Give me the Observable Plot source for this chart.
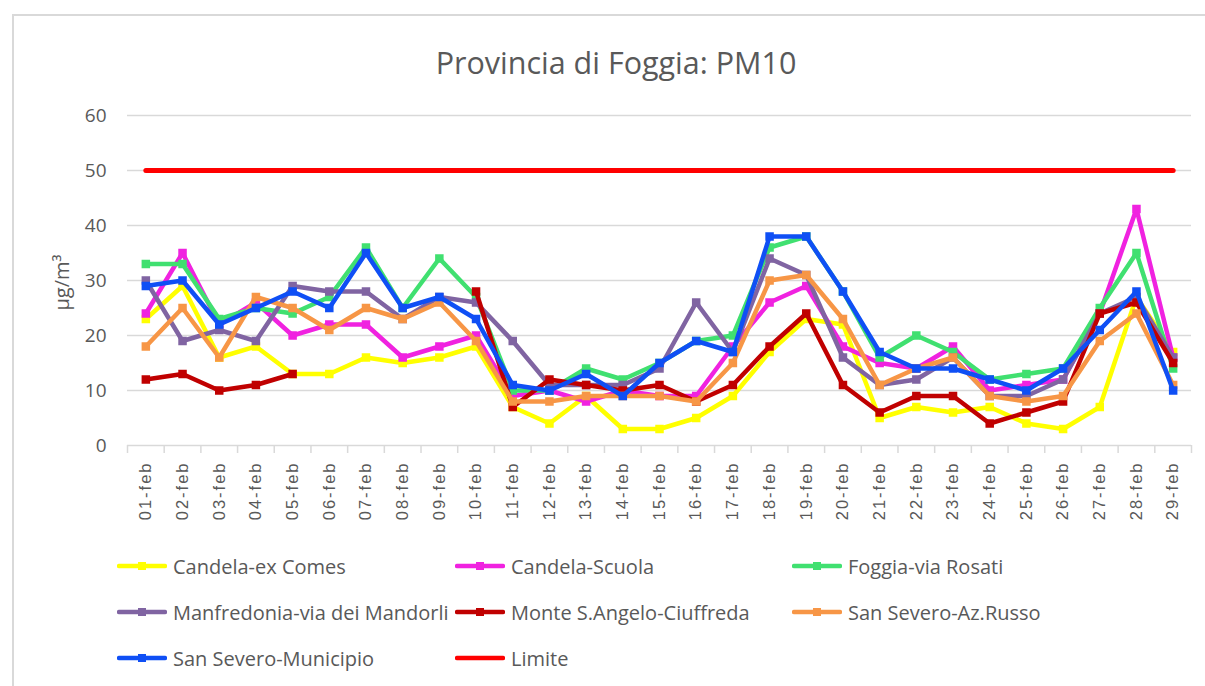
<!DOCTYPE html>
<html>
<head>
<meta charset="utf-8">
<script src="https://cdn.jsdelivr.net/npm/d3@7"></script>
<script src="https://cdn.jsdelivr.net/npm/@observablehq/plot@0.6"></script>
<style>
  html, body { margin: 0; padding: 0; background: #fff; }
  body { width: 1205px; height: 686px; position: relative; overflow: hidden; }
  #frame { position: absolute; left: 12px; top: 14px; width: 1300px; height: 800px; border-left: 2px solid #d9d9d9; border-top: 2px solid #d9d9d9; box-sizing: border-box; }
  #title { position: absolute; left: 0; top: 43px; width: 1232px; text-align: center; font-family: "Open Sans", sans-serif; font-size: 30.5px; color: #595959; line-height: 38px; }
  #chart { position: absolute; left: 0; top: 90px; }
  #legend { position: absolute; left: 0; top: 0; width: 1205px; height: 686px; pointer-events: none; }
  .item { position: absolute; display: flex; align-items: center; height: 30px; font-family: "Open Sans", sans-serif; font-size: 20px; color: #595959; white-space: nowrap; }
  .item svg { margin-right: 6px; }
  .pm10 [aria-label="x-axis tick label"] text { letter-spacing: 2px; }
</style>
</head>
<body>
<div id="frame"></div>
<div id="title">Provincia di Foggia: PM10</div>
<div id="chart"></div>
<div id="legend"></div>
<script>
const days = ["01-feb","02-feb","03-feb","04-feb","05-feb","06-feb","07-feb","08-feb","09-feb","10-feb",
  "11-feb","12-feb","13-feb","14-feb","15-feb","16-feb","17-feb","18-feb","19-feb","20-feb",
  "21-feb","22-feb","23-feb","24-feb","25-feb","26-feb","27-feb","28-feb","29-feb"];

const seriesNames = ["Candela-ex Comes","Candela-Scuola","Foggia-via Rosati","Manfredonia-via dei Mandorli",
  "Monte S.Angelo-Ciuffreda","San Severo-Az.Russo","San Severo-Municipio","Limite"];
const seriesColors = ["#FFFF00","#F022E0","#40E070","#8064A2","#C00000","#F79646","#0F4FF5","#FF0000"];

const candelaExComes = [23,29,16,18,13,13,16,15,16,18,7,4,9,3,3,5,9,17,23,22,5,7,6,7,4,3,7,27,17];
const candelaScuola = [24,35,22,26,20,22,22,16,18,20,9,10,8,10,9,9,18,26,29,18,15,14,18,10,11,12,24,43,16];
const foggiaRosati = [33,33,23,25,24,27,36,25,34,27,10,10,14,12,15,19,20,36,38,28,16,20,17,12,13,14,25,35,14];
const manfredonia = [30,19,21,19,29,28,28,23,27,26,19,11,11,11,14,26,17,34,31,16,11,12,16,9,9,12,24,27,16];
const monteSAngelo = [12,13,10,11,13,null,null,null,null,28,7,12,11,10,11,8,11,18,24,11,6,9,9,4,6,8,24,26,15];
const sanSeveroRusso = [18,25,16,27,25,21,25,23,26,19,8,8,9,9,9,8,15,30,31,23,11,14,16,9,8,9,19,24,11];
const sanSeveroMunicipio = [29,30,22,25,28,25,35,25,27,23,11,10,13,9,15,19,17,38,38,28,17,14,14,12,10,14,21,28,10];
const limite = days.map(() => 50);

const yTicks = [0,10,20,30,40,50,60];

const seriesValues = [candelaExComes, candelaScuola, foggiaRosati, manfredonia, monteSAngelo, sanSeveroRusso, sanSeveroMunicipio, limite];

const rows = [];
seriesNames.forEach((name, s) => {
  seriesValues[s].forEach((v, i) => rows.push({series: name, day: days[i], value: v}));
});

const W = 1205, H = 435, mL = 127, mR = 14, mT = 25, mB = 80;
const step = (W - mL - mR) / days.length;

const marks = [
  Plot.gridY(yTicks, {stroke: "#d9d9d9", strokeOpacity: 1, strokeWidth: 1.5}),
  Plot.ruleX(days, {x: d => d, dx: -step / 2, insetTop: H - mT - mB, insetBottom: -8, stroke: "#d9d9d9", strokeWidth: 1.5}),
  Plot.ruleX([days[days.length - 1]], {x: d => d, dx: step / 2, insetTop: H - mT - mB, insetBottom: -8, stroke: "#d9d9d9", strokeWidth: 1.5}),
  Plot.axisY(yTicks, {tickSize: 0, tickPadding: 21, fontSize: 19, fill: "#595959", label: null, fontFamily: "Open Sans, sans-serif"}),
  Plot.axisX(days, {tickSize: 0, tickPadding: 16, tickRotate: -90, fontSize: 16.5, fill: "#595959", label: null, fontFamily: "Liberation Sans, Arial, sans-serif"}),
  Plot.text(["μg/m³"], {frameAnchor: "left", rotate: -90, dx: -65, dy: 30, fontSize: 20, fill: "#595959", fontFamily: "Open Sans, sans-serif"})
];

seriesNames.forEach((name, s) => {
  const data = rows.filter(r => r.series === name);
  marks.push(Plot.line(data, {x: "day", y: "value", stroke: seriesColors[s], strokeWidth: s === 7 ? 5 : 4.5, strokeLinejoin: "round", strokeLinecap: "round"}));
  if (s !== 7) {
    marks.push(Plot.dot(data.filter(d => d.value != null), {x: "day", y: "value", symbol: "square", r: 4.8, fill: seriesColors[s], stroke: "none"}));
  }
});

const chart = Plot.plot({
  className: "pm10",
  width: W, height: H,
  marginLeft: mL, marginRight: mR, marginTop: mT, marginBottom: mB,
  x: {type: "point", domain: days, padding: 0.5, round: false, axis: null},
  y: {domain: [0, 60], axis: null},
  style: {background: "transparent", overflow: "visible"},
  marks
});
document.getElementById("chart").appendChild(chart);

// Legend
const legendCols = [117, 455, 792];
const legendRows = [566, 612, 658];
const legend = document.getElementById("legend");
seriesNames.forEach((name, s) => {
  const item = document.createElement("div");
  item.className = "item";
  item.style.left = legendCols[s % 3] + "px";
  item.style.top = (legendRows[Math.floor(s / 3)] - 15) + "px";
  const sw = `<svg width="50" height="12"><line x1="2" y1="6" x2="48" y2="6" stroke="${seriesColors[s]}" stroke-width="4.5" stroke-linecap="round"/>` +
    (s !== 7 ? `<rect x="21" y="2" width="8" height="8" fill="${seriesColors[s]}"/>` : "") + `</svg>`;
  item.innerHTML = sw + `<span>${name}</span>`;
  legend.appendChild(item);
});
</script>
</body>
</html>
